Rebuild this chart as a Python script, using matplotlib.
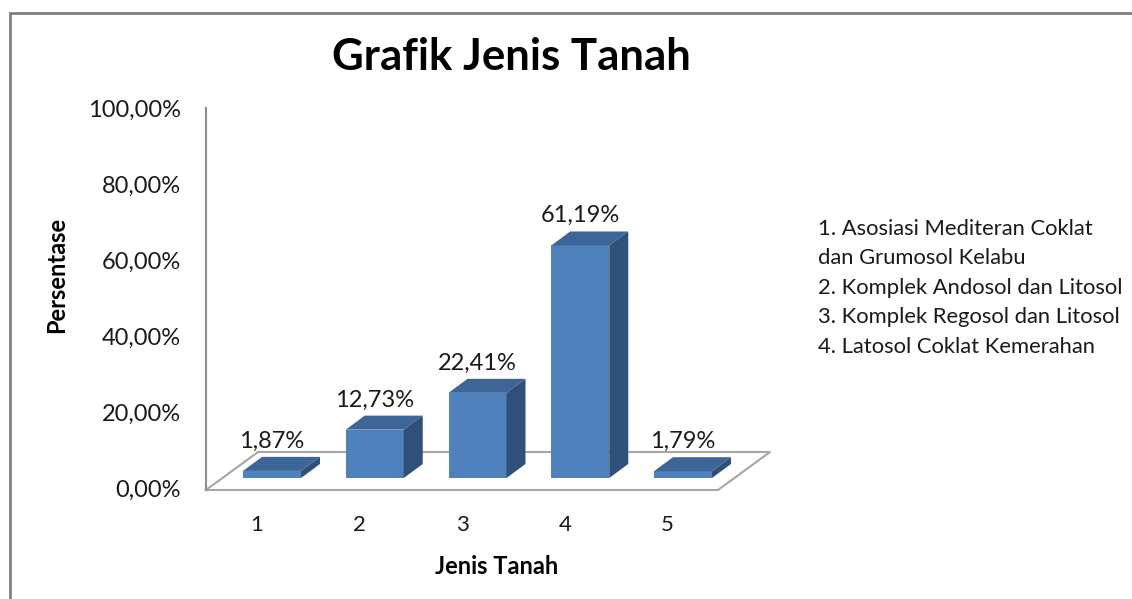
import numpy as np
import matplotlib
matplotlib.use("Agg")
import matplotlib.pyplot as plt

# ── data ──────────────────────────────────────────────
categories = ["1", "2", "3", "4", "5"]
values = [1.87, 12.73, 22.41, 61.19, 1.79]
value_labels = ["1,87%", "12,73%", "22,41%", "61,19%", "1,79%"]
y_ticks = [0, 20, 40, 60, 80, 100]
y_tick_labels = ["0,00%", "20,00%", "40,00%", "60,00%", "80,00%", "100,00%"]
legend_lines = ["1. Asosiasi Mediteran Coklat", "dan Grumosol Kelabu",
                "2. Komplek Andosol dan Litosol", "3. Komplek Regosol dan Litosol",
                "4. Latosol Coklat Kemerahan"]

FRONT = "#4F81BD"
TOP = "#3D6597"
SIDE = "#2F5078"
GRID = "#A6A6A6"

plt.rcParams["font.family"] = ["Lato", "DejaVu Sans"]

W, H = 1132, 599
fig = plt.figure(figsize=(W / 100, H / 100), dpi=100)

# pixel geometry of the bar plane (Excel-like 3D column chart)
PX_X, X0 = 102.75, 272      # px per category, px of first bar centre
PX_Y, Y0 = 3.8, 478         # px per percent, px of zero line
left, right, top, bottom = 190, 800, 90, 560
ax = fig.add_axes([left / W, 1 - bottom / H, (right - left) / W, (bottom - top) / H])
ax.set_xlim((left - X0) / PX_X, (right - X0) / PX_X)
ax.set_ylim((Y0 - bottom) / PX_Y, (Y0 - top) / PX_Y)
ax.axis("off")

def px2d(px, py):
    return (px - X0) / PX_X, (Y0 - py) / PX_Y

# floor
fl = [px2d(206, 490), px2d(718, 490), px2d(770, 452), px2d(258, 452), px2d(206, 490)]
ax.plot([p[0] for p in fl], [p[1] for p in fl], color=GRID, lw=1.5, zorder=1)
# vertical axis line
ax0, ay0 = px2d(206, 490)
ax1, ay1 = px2d(206, 108)
ax.plot([ax0, ax1], [ay0, ay1], color="#8C8C8C", lw=1.5, zorder=1)

# tick labels (front plane)
front_shift = ay0
for t, lab in zip(y_ticks, y_tick_labels):
    ax.text(px2d(181, 0)[0], t + front_shift, lab, ha="right", va="center",
            fontsize=17, color="#1a1a1a")

# bars
x = np.arange(len(values))
w = 58 / PX_X
dx, dy = 19 / PX_X, 14 / PX_Y
ax.bar(x, values, width=w, color=FRONT, edgecolor="none", zorder=3)
for xi, v in zip(x, values):
    l, r = xi - w / 2, xi + w / 2
    ax.fill([l, r, r + dx, l + dx], [v, v, v + dy, v + dy], color=TOP, lw=0, zorder=3)
    ax.fill([r, r + dx, r + dx, r], [0, dy, v + dy, v], color=SIDE, lw=0, zorder=3)

for xi, v, lab in zip(x, values, value_labels):
    ax.text(xi, v + 7.8, lab, ha="center", va="center", fontsize=17, color="#1a1a1a", zorder=4)

cat_y = (Y0 - 525) / PX_Y
for xi, c in zip(x, categories):
    ax.text(xi - 0.15, cat_y, c, ha="center", va="center", fontsize=16, color="#1a1a1a")

# titles
fig.text(511 / W, 1 - 57 / H, "Grafik Jenis Tanah", ha="center", va="center",
         fontsize=31.5, fontweight="bold", color="black")
fig.text(497 / W, 1 - 566 / H, "Jenis Tanah", ha="center", va="center",
         fontsize=17, fontweight="bold")
fig.text(57 / W, 1 - 275 / H, "Persentase", ha="center", va="center",
         rotation=90, fontsize=17, fontweight="bold")

# legend text block
for k, line in enumerate(legend_lines):
    fig.text(818 / W, 1 - (229 + 29.4 * k) / H, line, ha="left", va="center",
             fontsize=15.8, color="#1a1a1a")

# chart frame
frame = plt.Rectangle((10 / W, -0.05), 1.2, 1 - 13 / H + 0.05, transform=fig.transFigure,
                      fill=False, edgecolor="#7F7F7F", lw=2)
fig.patches.append(frame)

fig.savefig("out.png", dpi=100)
